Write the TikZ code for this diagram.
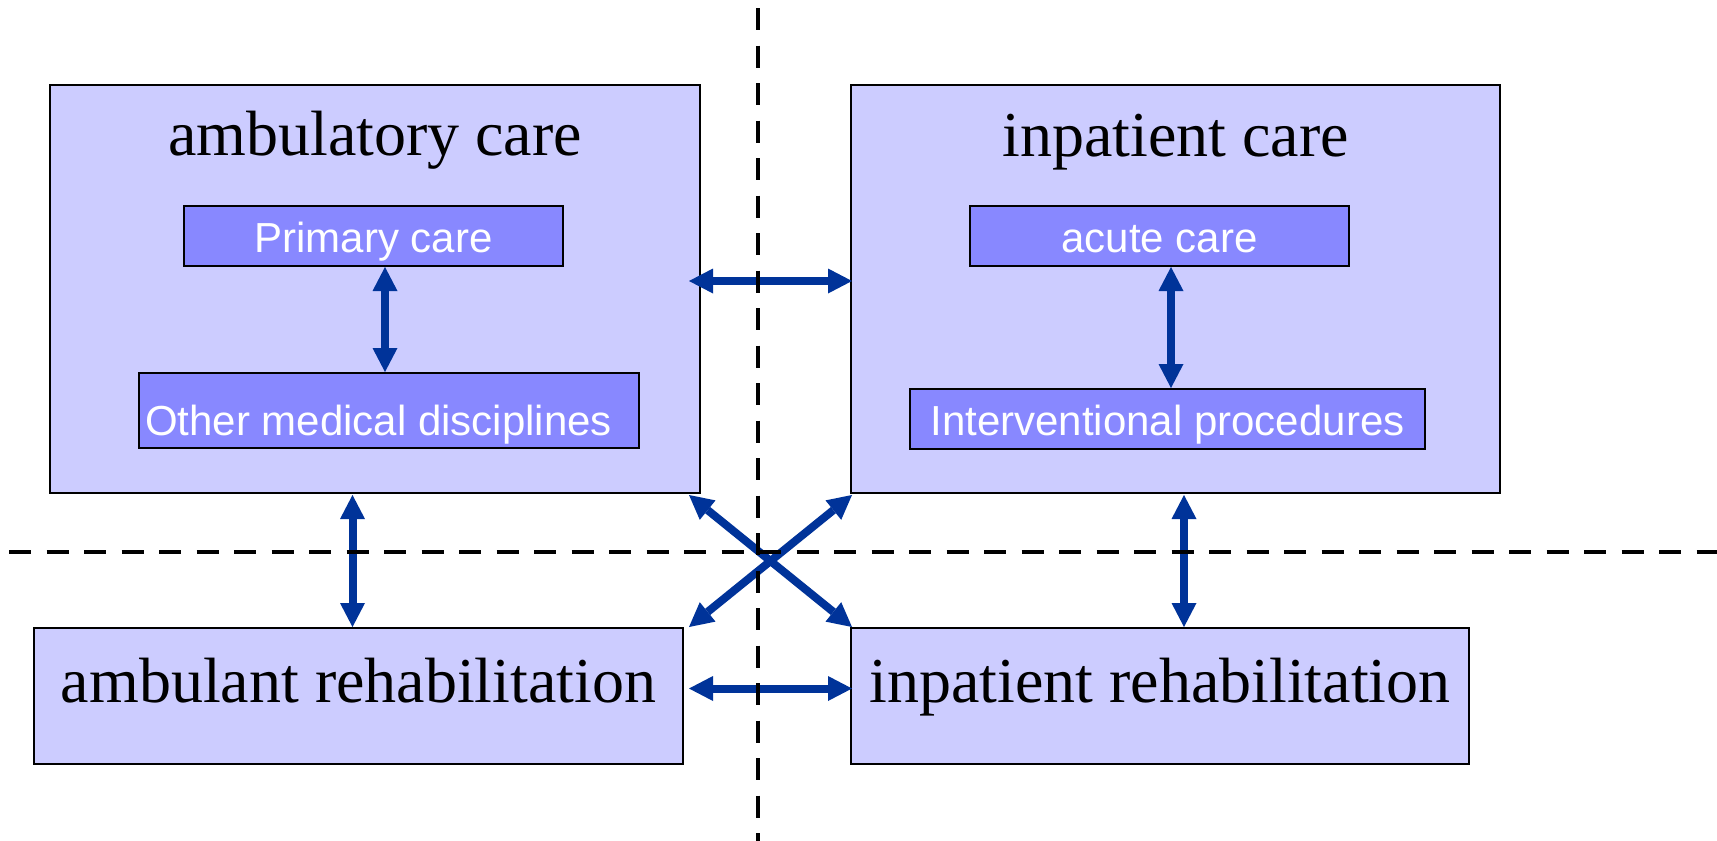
\documentclass[tikz,border=0pt]{standalone}
\usepackage{fontspec}
\setmainfont{Liberation Serif}
\newfontfamily\boxsans{Liberation Sans}
\usetikzlibrary{arrows.meta,calc}
\definecolor{outerfill}{HTML}{CCCCFF}
\definecolor{innerfill}{HTML}{8888FF}
\definecolor{arrowblue}{HTML}{003399}
\begin{document}
\begin{tikzpicture}[x=1pt,y=-1pt,
  outerbox/.style={draw=black,line width=2pt,fill=outerfill,inner sep=0pt,anchor=north west},
  innerbox/.style={draw=black,line width=2pt,fill=innerfill,inner sep=0pt,anchor=north west},
  titletext/.style={font=\fontsize{64}{64}\selectfont,inner sep=0pt,anchor=base},
  innertext/.style={font=\boxsans\fontsize{42}{42}\selectfont,text=white,inner sep=0pt,anchor=base},
  link/.style={draw=arrowblue,line width=8pt,>={Triangle[length=24pt,width=25pt,line width=0pt]},<->},
  divider/.style={draw=black,line width=4.5pt,dash pattern=on 22pt off 15.5pt}]
\fill[white] (0,0) rectangle (1717,841);
\useasboundingbox (0,0) rectangle (1717,841);

% outer boxes
\node[outerbox,minimum width=650pt,minimum height=408pt] (amb) at (49,84) {};
\node[outerbox,minimum width=649pt,minimum height=408pt] (inp) at (850,84) {};
\node[outerbox,minimum width=649pt,minimum height=136pt] (arb) at (33,627) {};
\node[outerbox,minimum width=618pt,minimum height=136pt] (irb) at (850,627) {};

% inner boxes
\node[innerbox,minimum width=379pt,minimum height=60pt] (prim) at (183,205) {};
\node[innerbox,minimum width=500pt,minimum height=75pt] (other) at (138,372) {};
\node[innerbox,minimum width=379pt,minimum height=60pt] (acute) at (969,205) {};
\node[innerbox,minimum width=515pt,minimum height=60pt] (interv) at (909,388) {};

% texts
\node[titletext] (ambt) at ($(amb.north)+(0,71)$) {ambulatory care};
\node[titletext] (inpt) at ($(inp.north)+(0,72)$) {inpatient care};
\node[titletext] (arbt) at ($(arb.south)+(0,-63)$) {ambulant rehabilitation};
\node[titletext] (irbt) at ($(irb.south)+(0,-63)$) {inpatient rehabilitation};
\node[innertext] (primt) at ($(prim.south)+(0,-15)$) {Primary care};
\node[innertext] (acutet) at ($(acute.south)+(0,-15)$) {acute care};
\node[innertext,anchor=base west] (othert) at ($(other.south west)+(7,-14)$) {Other medical disciplines};
\node[innertext] (intervt) at ($(interv.south)+(0,-15)$) {Interventional procedures};

% connectors
\draw[link] ($(prim.south)+(11.5,0)$) -- ($(other.north)+(-4,0)$);
\draw[link] ($(acute.south)+(11.5,0)$) -- ($(interv.north)+(3.5,0)$);
\draw[link] ($(amb.north east)+(-12,197)$) -- ($(inp.north west)+(2,197)$);
\draw[link] ($(amb.south)+(-22.5,1)$) -- ($(arb.north)+(-6,0)$);
\draw[link] ($(inp.south)+(8.5,1)$) -- ($(irb.north)+(24,0)$);
\draw[link] ($(amb.south east)+(-12,1)$) -- ($(irb.north west)+(2,0)$);
\draw[link] ($(inp.south west)+(2,1)$) -- ($(arb.north east)+(5,0)$);
\draw[link] ($(arb.east)+(5,-7.5)$) -- ($(irb.west)+(2,-7.5)$);

% dividers
\coordinate (vtop) at (758,8);
\coordinate (vbot) at (758,841);
\coordinate (hleft) at (9,552);
\coordinate (hright) at (1717,552);
\draw[divider] (vtop) -- (vbot);
\draw[divider] (hleft) -- (hright);
\end{tikzpicture}
\end{document}
